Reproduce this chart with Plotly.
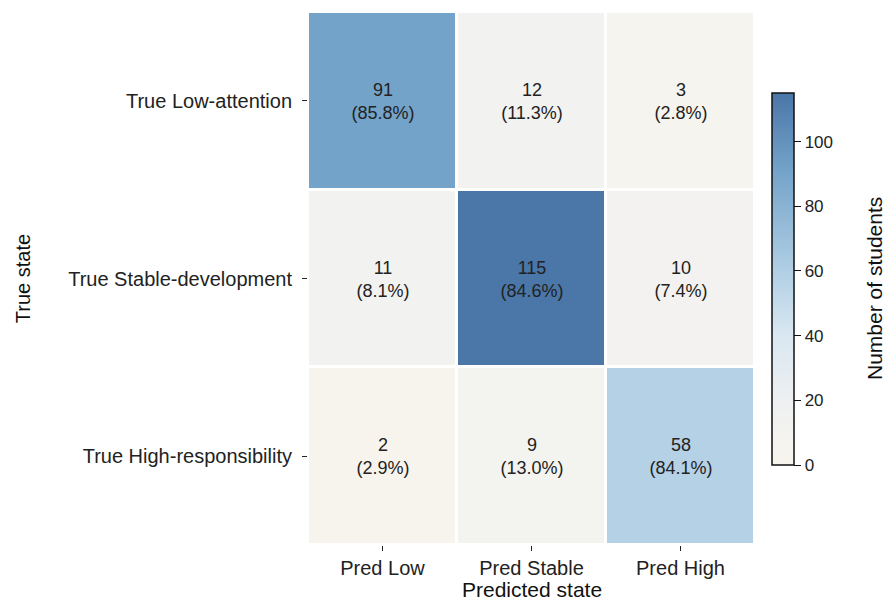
import plotly.graph_objects as go

pred_labels = ["Pred Low", "Pred Stable", "Pred High"]
true_labels = ["True Low-attention", "True Stable-development", "True High-responsibility"]
counts = [
    [91, 12, 3],
    [11, 115, 10],
    [2, 9, 58],
]
percents = [
    [85.8, 11.3, 2.8],
    [8.1, 84.6, 7.4],
    [2.9, 13.0, 84.1],
]
colorbar_ticks = [0, 20, 40, 60, 80, 100]

text = [[f"{c}<br>({p:.1f}%)" for c, p in zip(cr, pr)] for cr, pr in zip(counts, percents)]

colorscale = [
    [0.0, "#f8f5ee"],
    [0.17, "#eef0f1"],
    [0.35, "#d9e7f1"],
    [0.52, "#b1cfe5"],
    [0.79, "#74a3c9"],
    [1.0, "#4a76a8"],
]

font_family = "Liberation Sans, Arial, sans-serif"

fig = go.Figure(go.Heatmap(
    z=counts,
    x=pred_labels,
    y=true_labels,
    text=text,
    texttemplate="%{text}",
    textfont=dict(size=18, color="#222222", family=font_family),
    colorscale=colorscale,
    zmin=0,
    zmax=115,
    xgap=3,
    ygap=3,
    hoverinfo="skip",
    colorbar=dict(
        x=1.038, xanchor="left", xpad=0,
        y=0.499, yanchor="middle", ypad=0,
        len=0.698, lenmode="fraction",
        thickness=22,
        outlinecolor="#111111",
        outlinewidth=1.5,
        ticks="outside",
        ticklen=7,
        tickwidth=1,
        tickcolor="#111111",
        tickvals=colorbar_ticks,
        tickprefix="\u00a0\u00a0",
        tickfont=dict(size=17, color="#222222", family=font_family),
    ),
))

fig.update_layout(
    width=886, height=598,
    margin=dict(l=308, r=131, t=12, b=53, autoexpand=False),
    paper_bgcolor="white",
    plot_bgcolor="white",
    font=dict(family=font_family, color="#222222"),
    xaxis=dict(
        tickfont=dict(size=20, color="#222222"),
        ticks="outside", ticklen=5, tickcolor="#222222",
        ticklabelstandoff=0,
        showgrid=False, zeroline=False, automargin=False,
    ),
    yaxis=dict(
        title=dict(text="True state", font=dict(size=20, color="#111111"), standoff=32),
        tickfont=dict(size=20, color="#222222"),
        ticks="outside", ticklen=5, tickcolor="#222222",
        ticklabelstandoff=6,
        autorange="reversed",
        showgrid=False, zeroline=False, automargin=False,
    ),
    annotations=[
        dict(
            text="Number of students",
            xref="paper", yref="paper",
            x=1.266, y=0.482,
            xanchor="center", yanchor="middle",
            textangle=-90,
            showarrow=False,
            font=dict(size=21, color="#111111", family=font_family),
        ),
        dict(
            text="Predicted state",
            xref="paper", yref="paper",
            x=0.5, y=-0.083,
            xanchor="center", yanchor="middle",
            showarrow=False,
            font=dict(size=21, color="#111111", family=font_family),
        ),
    ],
)

# remove the browser's default 8px body margin so the figure fills the window exactly
fig.write_html(
    "out.html",
    config={"displayModeBar": False},
    post_script="document.body.style.margin='0';document.body.style.overflow='hidden';",
)
